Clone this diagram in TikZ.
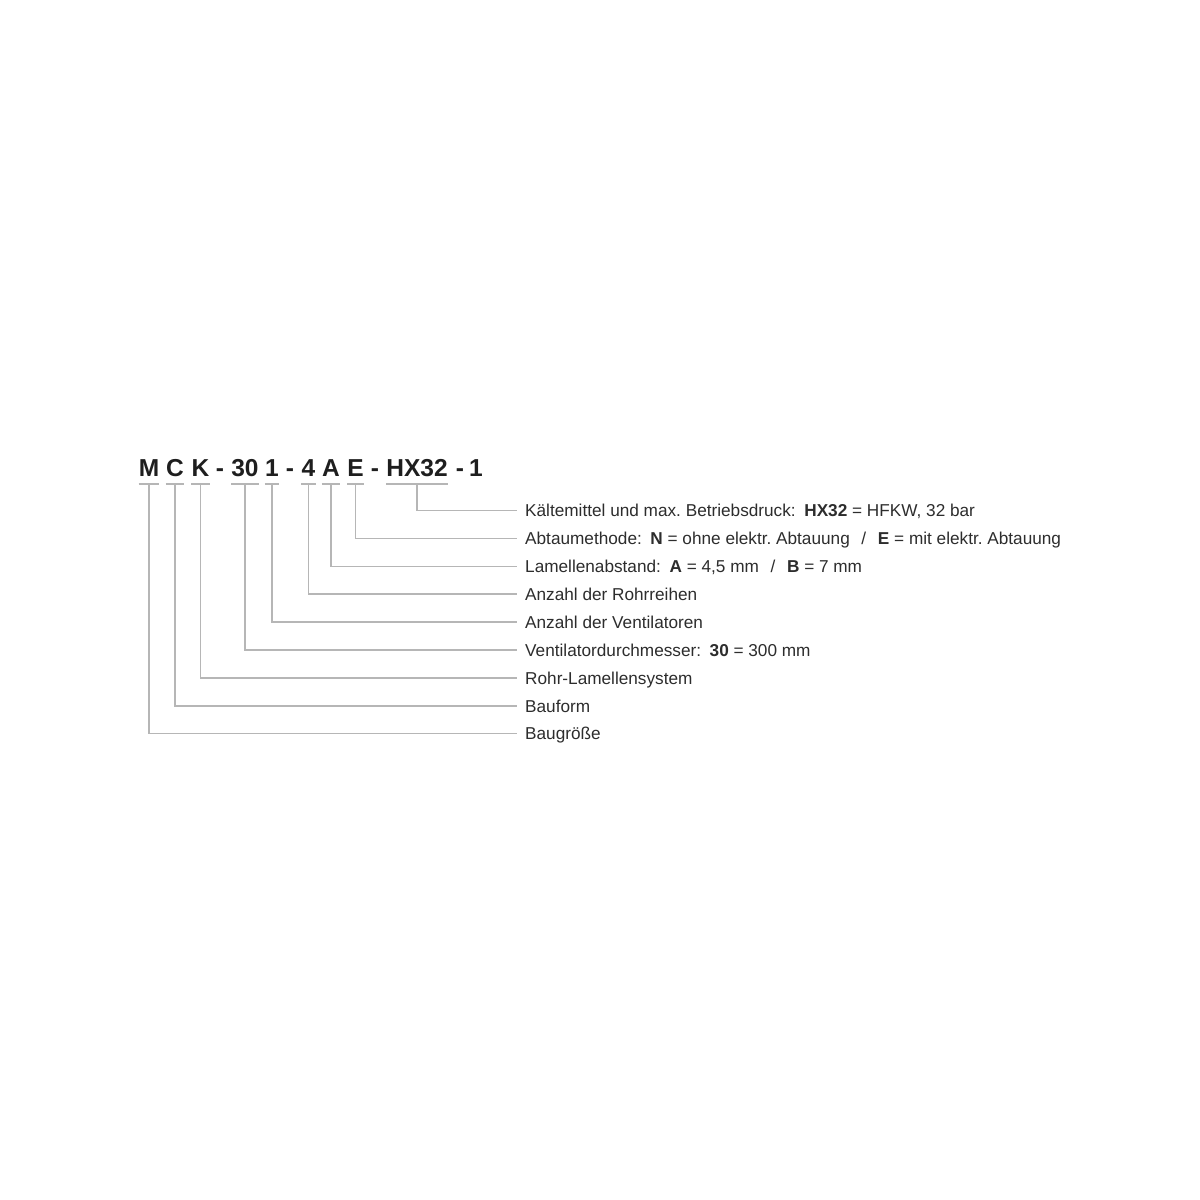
\documentclass[tikz,border=0pt]{standalone}
\usepackage{fontspec}
\setmainfont{Liberation Sans}
\frenchspacing
\definecolor{lineg}{RGB}{182,182,182}
\definecolor{txt}{RGB}{45,45,45}
\definecolor{codec}{RGB}{30,30,30}
\begin{document}
\begin{tikzpicture}[x=1pt,y=-1pt,
  code/.style={anchor=base,inner sep=0pt,font=\fontsize{24.5}{28}\selectfont\bfseries,text=codec},
  lab/.style={anchor=west,inner xsep=8pt,inner ysep=0pt,text height=12.5pt,text depth=0pt,
    font=\fontsize{17.2}{20}\selectfont\frenchspacing,text=txt},
  conn/.style={draw=lineg,line width=1.5pt},
  uline/.style={draw=lineg,line width=1.5pt}]
\useasboundingbox[fill=white] (0,0) rectangle (1200,1200);
\coordinate (ul) at (0,484);
% code segments
\node[code] (cM) at (149,476) {M};
\node[code] (cC) at (175,476) {C};
\node[code] (cK) at (200.5,476) {K};
\node[code] (d1) at (220,476) {-};
\node[code] (c30) at (245,476) {30};
\node[code] (c1) at (272,476) {1};
\node[code] (d2) at (290,476) {-};
\node[code] (c4) at (308.5,476) {4};
\node[code] (cA) at (331,476) {A};
\node[code] (cE) at (355.5,476) {E};
\node[code] (d3) at (375,476) {-};
\node[code] (cHX) at (417,476) {HX32};
\node[code] (d4) at (460,476) {-};
\node[code] (cL) at (476,476) {1};
% underlines
\foreach \n in {cM,cC,cK,c30,c1,c4,cA,cE,cHX}{
  \draw[uline] (\n.west |- ul) -- (\n.east |- ul);
}
% labels
\node[lab] (lHX) at (517,510.5) {Kältemittel und max. Betriebsdruck:\hspace{0.5em}\textbf{HX32} = HFKW, 32 bar};
\node[lab] (lE) at (517,538.4) {Abtaumethode:\hspace{0.5em}\textbf{N} = ohne elektr. Abtauung\hspace{0.4em} /\hspace{0.4em} \textbf{E} = mit elektr. Abtauung};
\node[lab] (lA) at (517,566.3) {Lamellenabstand:\hspace{0.5em}\textbf{A} = 4,5 mm\hspace{0.4em} /\hspace{0.4em} \textbf{B} = 7 mm};
\node[lab] (l4) at (517,594.2) {Anzahl der Rohrreihen};
\node[lab] (l1) at (517,622.1) {Anzahl der Ventilatoren};
\node[lab] (l30) at (517,650) {Ventilatordurchmesser:\hspace{0.5em}\textbf{30} = 300 mm};
\node[lab] (lK) at (517,677.9) {Rohr-Lamellensystem};
\node[lab] (lC) at (517,705.8) {Bauform};
\node[lab] (lM) at (517,733.7) {Baugröße};
% connectors
\draw[conn] (cHX.south |- ul) |- (lHX.west);
\draw[conn] (cE.south |- ul) |- (lE.west);
\draw[conn] (cA.south |- ul) |- (lA.west);
\draw[conn] (c4.south |- ul) |- (l4.west);
\draw[conn] (c1.south |- ul) |- (l1.west);
\draw[conn] (c30.south |- ul) |- (l30.west);
\draw[conn] (cK.south |- ul) |- (lK.west);
\draw[conn] (cC.south |- ul) |- (lC.west);
\draw[conn] (cM.south |- ul) |- (lM.west);
\end{tikzpicture}
\end{document}
